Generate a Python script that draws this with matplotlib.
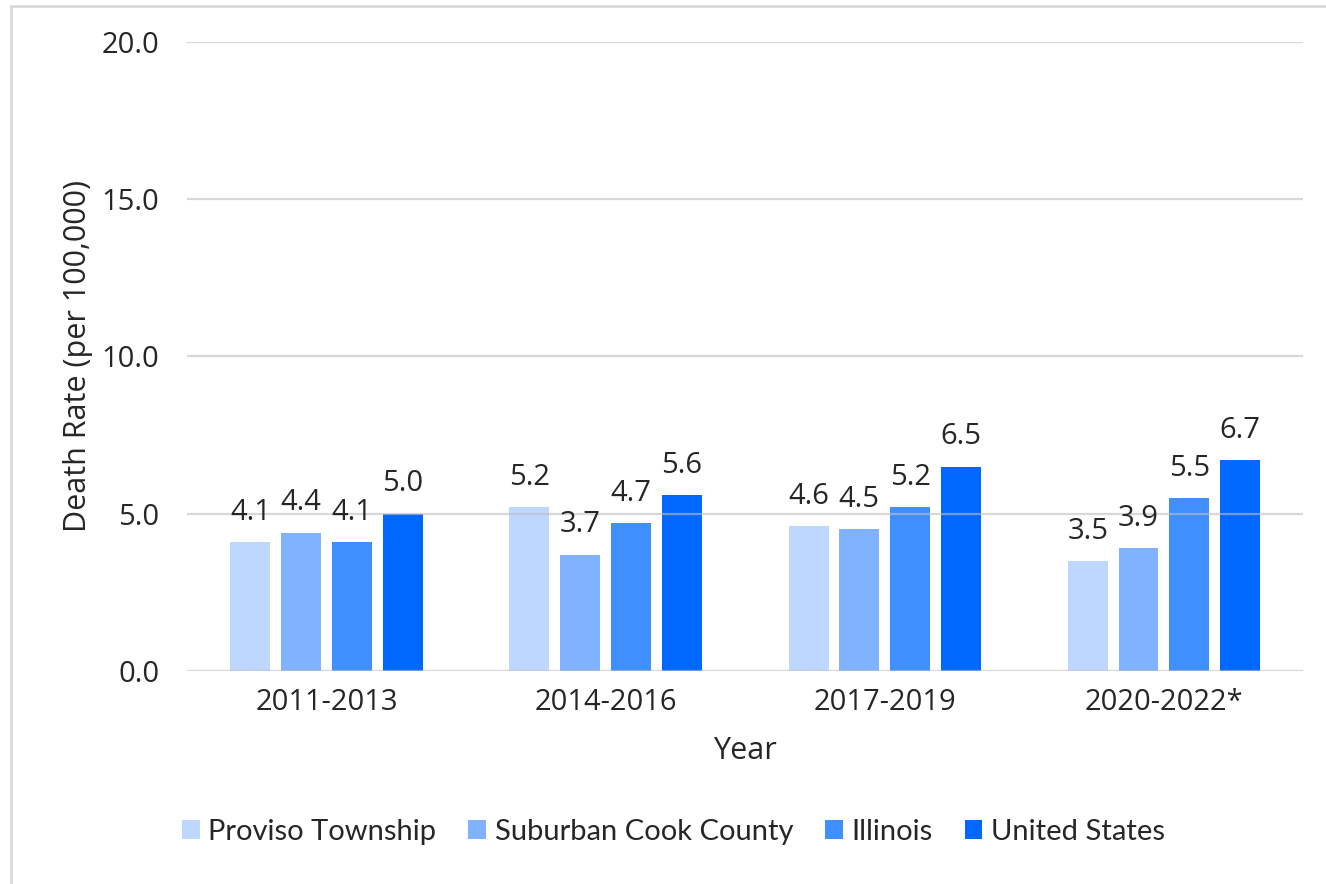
import numpy as np
import matplotlib
matplotlib.use('Agg')
import matplotlib.pyplot as plt
from matplotlib.lines import Line2D

plt.rcParams['font.family'] = ['Open Sans', 'DejaVu Sans']

# Death rates per 100,000 by period
periods = ['2011-2013', '2014-2016', '2017-2019', '2020-2022*']
series = ['Proviso Township', 'Suburban Cook County', 'Illinois', 'United States']
proviso = [4.1, 5.2, 4.6, 3.5]
suburban = [4.4, 3.7, 4.5, 3.9]
illinois = [4.1, 4.7, 5.2, 5.5]
united_states = [5.0, 5.6, 6.5, 6.7]
colors = ['#BDD7FE', '#7FB2FF', '#3F8FFF', '#0068FF']

fig = plt.figure(figsize=(13.26, 8.84), dpi=100)
ax = fig.add_axes([0.141, 0.241, 0.842, 0.7115])

x = np.arange(len(periods))
width = 0.143
step = 0.182
values = [proviso, suburban, illinois, united_states]
for i, (name, vals, c) in enumerate(zip(series, values, colors)):
    pos = x + (i - 1.5) * step
    bars = ax.bar(pos, vals, width, color=c, label=name, zorder=2)
    for b, v in zip(bars, vals):
        ax.annotate('{:.1f}'.format(v), (b.get_x() + b.get_width() / 2, v),
                    xytext=(0, 11), textcoords='offset points',
                    ha='center', va='bottom', fontsize=21, color='#262626')

ax.set_ylim(0, 20)
ax.set_xlim(-0.5, 3.5)
ax.set_yticks([0, 5, 10, 15, 20])
ax.set_yticklabels(['{:.1f}'.format(t) for t in [0, 5, 10, 15, 20]])
ax.set_xticks(x)
ax.set_xticklabels(periods)
ax.tick_params(axis='both', length=0, labelsize=21, colors='#262626')
ax.tick_params(axis='y', pad=20)
ax.tick_params(axis='x', pad=12)
ax.yaxis.grid(True, color='#BFBFBF', alpha=0.6, linewidth=1.6, zorder=3)
ax.set_axisbelow(False)
for s in ax.spines.values():
    s.set_visible(False)

ax.set_xlabel('Year', fontsize=22, color='#262626', labelpad=14)
ax.set_ylabel('Death Rate (per 100,000)', fontsize=22, color='#262626', labelpad=6)

leg = fig.legend(loc='center', bbox_to_anchor=(0.508, 0.059), ncol=4, frameon=False,
                 handlelength=0.6, handleheight=0.6,
                 handletextpad=0.3, columnspacing=1.1,
                 prop={'family': 'Lato', 'size': 21})
for t in leg.get_texts():
    t.set_color('#262626')

# light frame on left and top edges
fig.add_artist(Line2D([11 / 1326, 11 / 1326], [0, 1 - 6 / 884], color='#D9D9D9', linewidth=2))
fig.add_artist(Line2D([11 / 1326, 1], [1 - 6 / 884, 1 - 6 / 884], color='#D9D9D9', linewidth=2))

fig.savefig('out.png', dpi=100)
